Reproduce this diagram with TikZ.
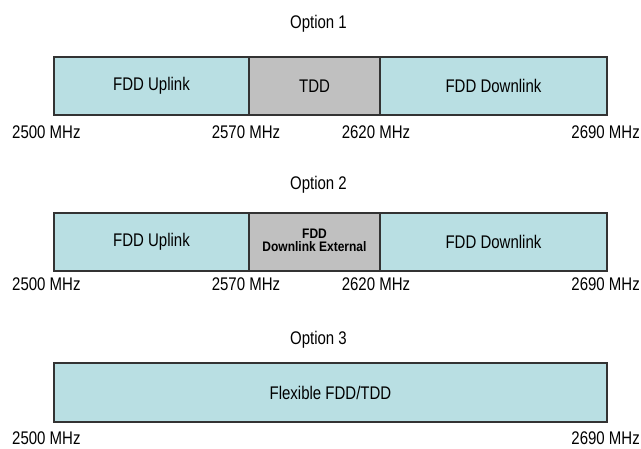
\documentclass[tikz,border=0pt]{standalone}
\usepackage{fontspec}
\setmainfont{Liberation Sans}
\definecolor{bandteal}{HTML}{B9DFE3}
\definecolor{bandgray}{HTML}{C0C0C0}
\definecolor{edgecol}{HTML}{333333}
\newcommand{\talltext}[1]{\scalebox{1}[1.22]{#1}}
\begin{document}
\begin{tikzpicture}[x=1pt,y=-1pt,
  seg/.style={draw=edgecol, line width=1.3pt, inner sep=0pt, outer sep=0pt,
    minimum height=58pt, align=center, font=\fontsize{15}{17}\selectfont},
  tealseg/.style={seg, fill=bandteal},
  grayseg/.style={seg, fill=bandgray},
  freq/.style={inner sep=0pt, font=\fontsize{15}{17}\selectfont},
  optlabel/.style={inner sep=0pt, font=\fontsize{15}{17}\selectfont}]
\useasboundingbox (0,0) rectangle (641,448);

% Option 1
\node[optlabel] (o1) at (318.5,23.5) {\talltext{Option 1}};
\node[tealseg, minimum width=195pt] (a1) at (151.5,86) {\talltext{FDD Uplink}};
\node[grayseg, minimum width=131pt] (b1) at (314.5,86) {\talltext{TDD}};
\node[tealseg, minimum width=227pt] (c1) at (493.5,86) {\talltext{FDD Downlink}};
\node[freq, anchor=west] (f11) at (12,132) {\talltext{2500 MHz}};
\node[freq] (f12) at (246,132) {\talltext{2570 MHz}};
\node[freq] (f13) at (376,132) {\talltext{2620 MHz}};
\node[freq, anchor=east] (f14) at (640,132) {\talltext{2690 MHz}};

% Option 2
\node[optlabel] (o2) at (318.5,185) {\talltext{Option 2}};
\node[tealseg, minimum width=195pt] (a2) at (151.5,242) {\talltext{FDD Uplink}};
\node[grayseg, minimum width=131pt, font=\bfseries\fontsize{12}{13}\selectfont] (b2) at (314.5,242) {\raisebox{1pt}{\scalebox{1}[1.15]{\begin{tabular}{@{}c@{}}FDD\\[-1pt]Downlink External\end{tabular}}}};
\node[tealseg, minimum width=227pt] (c2) at (493.5,242) {\talltext{FDD Downlink}};
\node[freq, anchor=west] (f21) at (12,284) {\talltext{2500 MHz}};
\node[freq] (f22) at (246,284) {\talltext{2570 MHz}};
\node[freq] (f23) at (376,284) {\talltext{2620 MHz}};
\node[freq, anchor=east] (f24) at (640,284) {\talltext{2690 MHz}};

% Option 3
\node[optlabel] (o3) at (318.5,340) {\talltext{Option 3}};
\node[tealseg, minimum width=553pt, minimum height=59pt] (a3) at (330.5,392.5) {\talltext{Flexible FDD/TDD}};
\node[freq, anchor=west] (f31) at (12,438) {\talltext{2500 MHz}};
\node[freq, anchor=east] (f32) at (640,438) {\talltext{2690 MHz}};
\end{tikzpicture}
\end{document}
